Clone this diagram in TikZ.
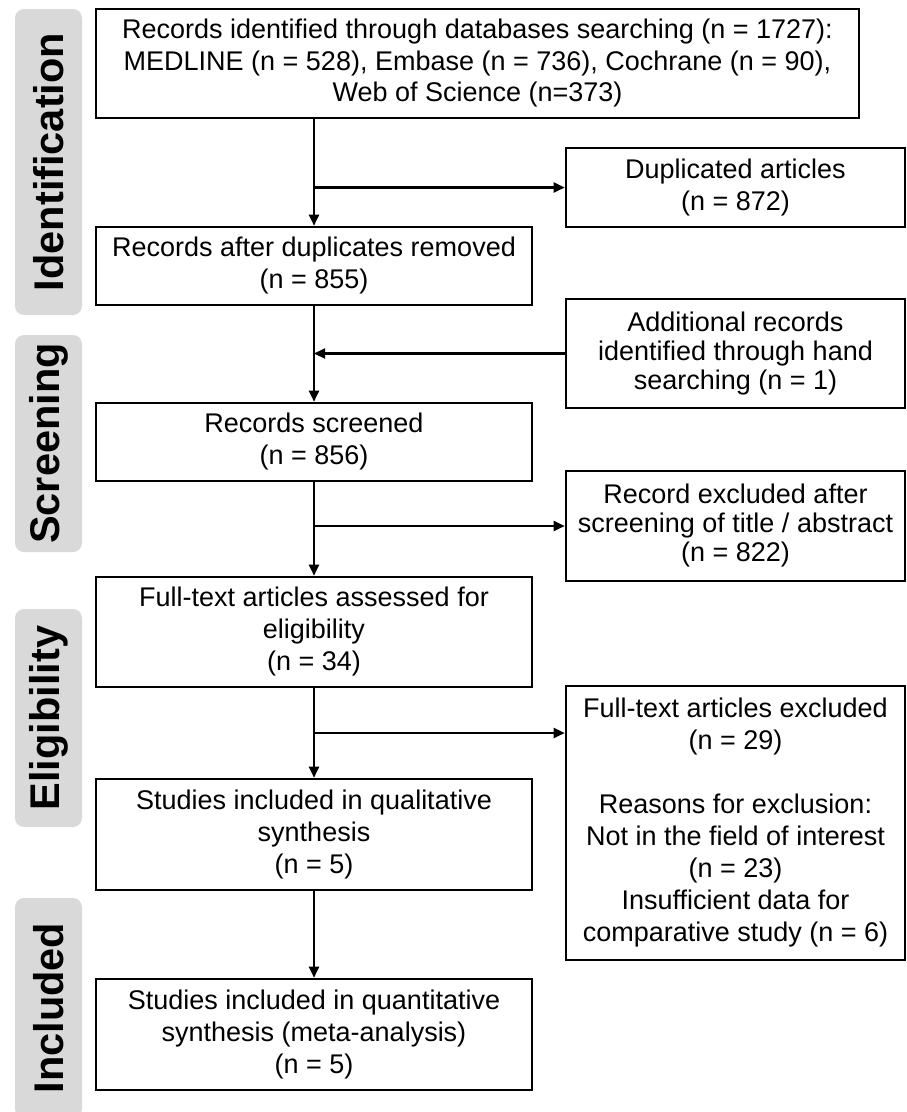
\documentclass[tikz,border=0pt]{standalone}
\usepackage{fontspec}
\setmainfont{Liberation Sans}
\usetikzlibrary{arrows.meta}
\definecolor{phasegray}{HTML}{D9D9D9}
\tikzset{
  box/.style={draw=black, line width=2.6pt, rectangle, align=center, inner sep=0pt,
    font=\fontsize{27}{32}\selectfont},
  tightbox/.style={box, font=\fontsize{27}{29}\selectfont},
  arr/.style={line width=2.2pt, -{Triangle[length=11pt,width=10pt]}},
  phase/.style={fill=phasegray, rounded corners=9pt, rotate=90, inner sep=0pt,
    minimum height=67pt, font=\fontsize{41.5}{41.5}\selectfont\bfseries}
}
\begin{document}
\begin{tikzpicture}[x=1pt,y=-1pt]
\useasboundingbox (0,0) rectangle (907,1112);
\begin{scope}
\clip (0,0) rectangle (907,1112);
% phase labels
\node[phase, minimum width=306pt] (pid) at (48.5,162) {Identification};
\node[phase, minimum width=217pt] (psc) at (48.5,443.5) {Screening};
\node[phase, minimum width=218pt] (pel) at (48.5,718) {Eligibility};
\node[phase, minimum width=220pt] (pin) at (48.5,1008) {Included};
\end{scope}
% boxes
\node[box, minimum width=763pt, minimum height=109pt, font=\fontsize{27}{31.5}\selectfont] (b1) at (477.5,63.5)
  {Records identified through databases searching (n = 1727):\\MEDLINE (n = 528), Embase (n = 736), Cochrane (n = 90),\\Web of Science (n=373)};
\node[box, minimum width=339pt, minimum height=79pt] (dup) at (735.5,187.5)
  {Duplicated articles\\(n = 872)};
\node[box, minimum width=436pt, minimum height=78pt] (b2) at (314,266)
  {Records after duplicates removed\\(n = 855)};
\node[tightbox, minimum width=339pt, minimum height=109pt] (add) at (735.5,353.5)
  {Additional records\\identified through hand\\searching (n = 1)};
\node[box, minimum width=436pt, minimum height=78pt] (b3) at (314,442)
  {Records screened\\(n = 856)};
\node[tightbox, minimum width=339pt, minimum height=110pt] (exc1) at (735.5,526)
  {Record excluded after\\screening of title / abstract\\(n = 822)};
\node[box, minimum width=436pt, minimum height=110pt] (b4) at (314,632)
  {Full-text articles assessed for\\eligibility\\(n = 34)};
\node[box, minimum width=339pt, minimum height=274pt] (exc2) at (735.5,823)
  {Full-text articles excluded\\(n = 29)\\[32pt]Reasons for exclusion:\\Not in the field of interest\\(n = 23)\\Insufficient data for\\comparative study (n = 6)};
\node[box, minimum width=436pt, minimum height=111pt] (qual) at (314,834.5)
  {Studies included in qualitative\\synthesis\\(n = 5)};
\node[box, minimum width=436pt, minimum height=111pt] (quant) at (314,1034.5)
  {Studies included in quantitative\\synthesis (meta-analysis)\\(n = 5)};
% junctions
\coordinate (j1) at (b2.north |- dup.west);
\coordinate (j2) at (b2.north |- add.west);
\coordinate (j3) at (b4.north |- exc1.west);
\coordinate (j4) at (314,733);
% connectors
\draw[arr] (b1.south -| b2.north) -- (b2.north);
\draw[arr] (j1) -- (dup.west);
\draw[arr] (b2.south) -- (b3.north);
\draw[arr] (add.west) -- (j2);
\draw[arr] (b3.south) -- (b4.north);
\draw[arr] (j3) -- (exc1.west);
\draw[arr] (b4.south) -- (qual.north);
\draw[arr] (j4) -- (j4 -| exc2.west);
\draw[arr] (qual.south) -- (quant.north);
\end{tikzpicture}
\end{document}
